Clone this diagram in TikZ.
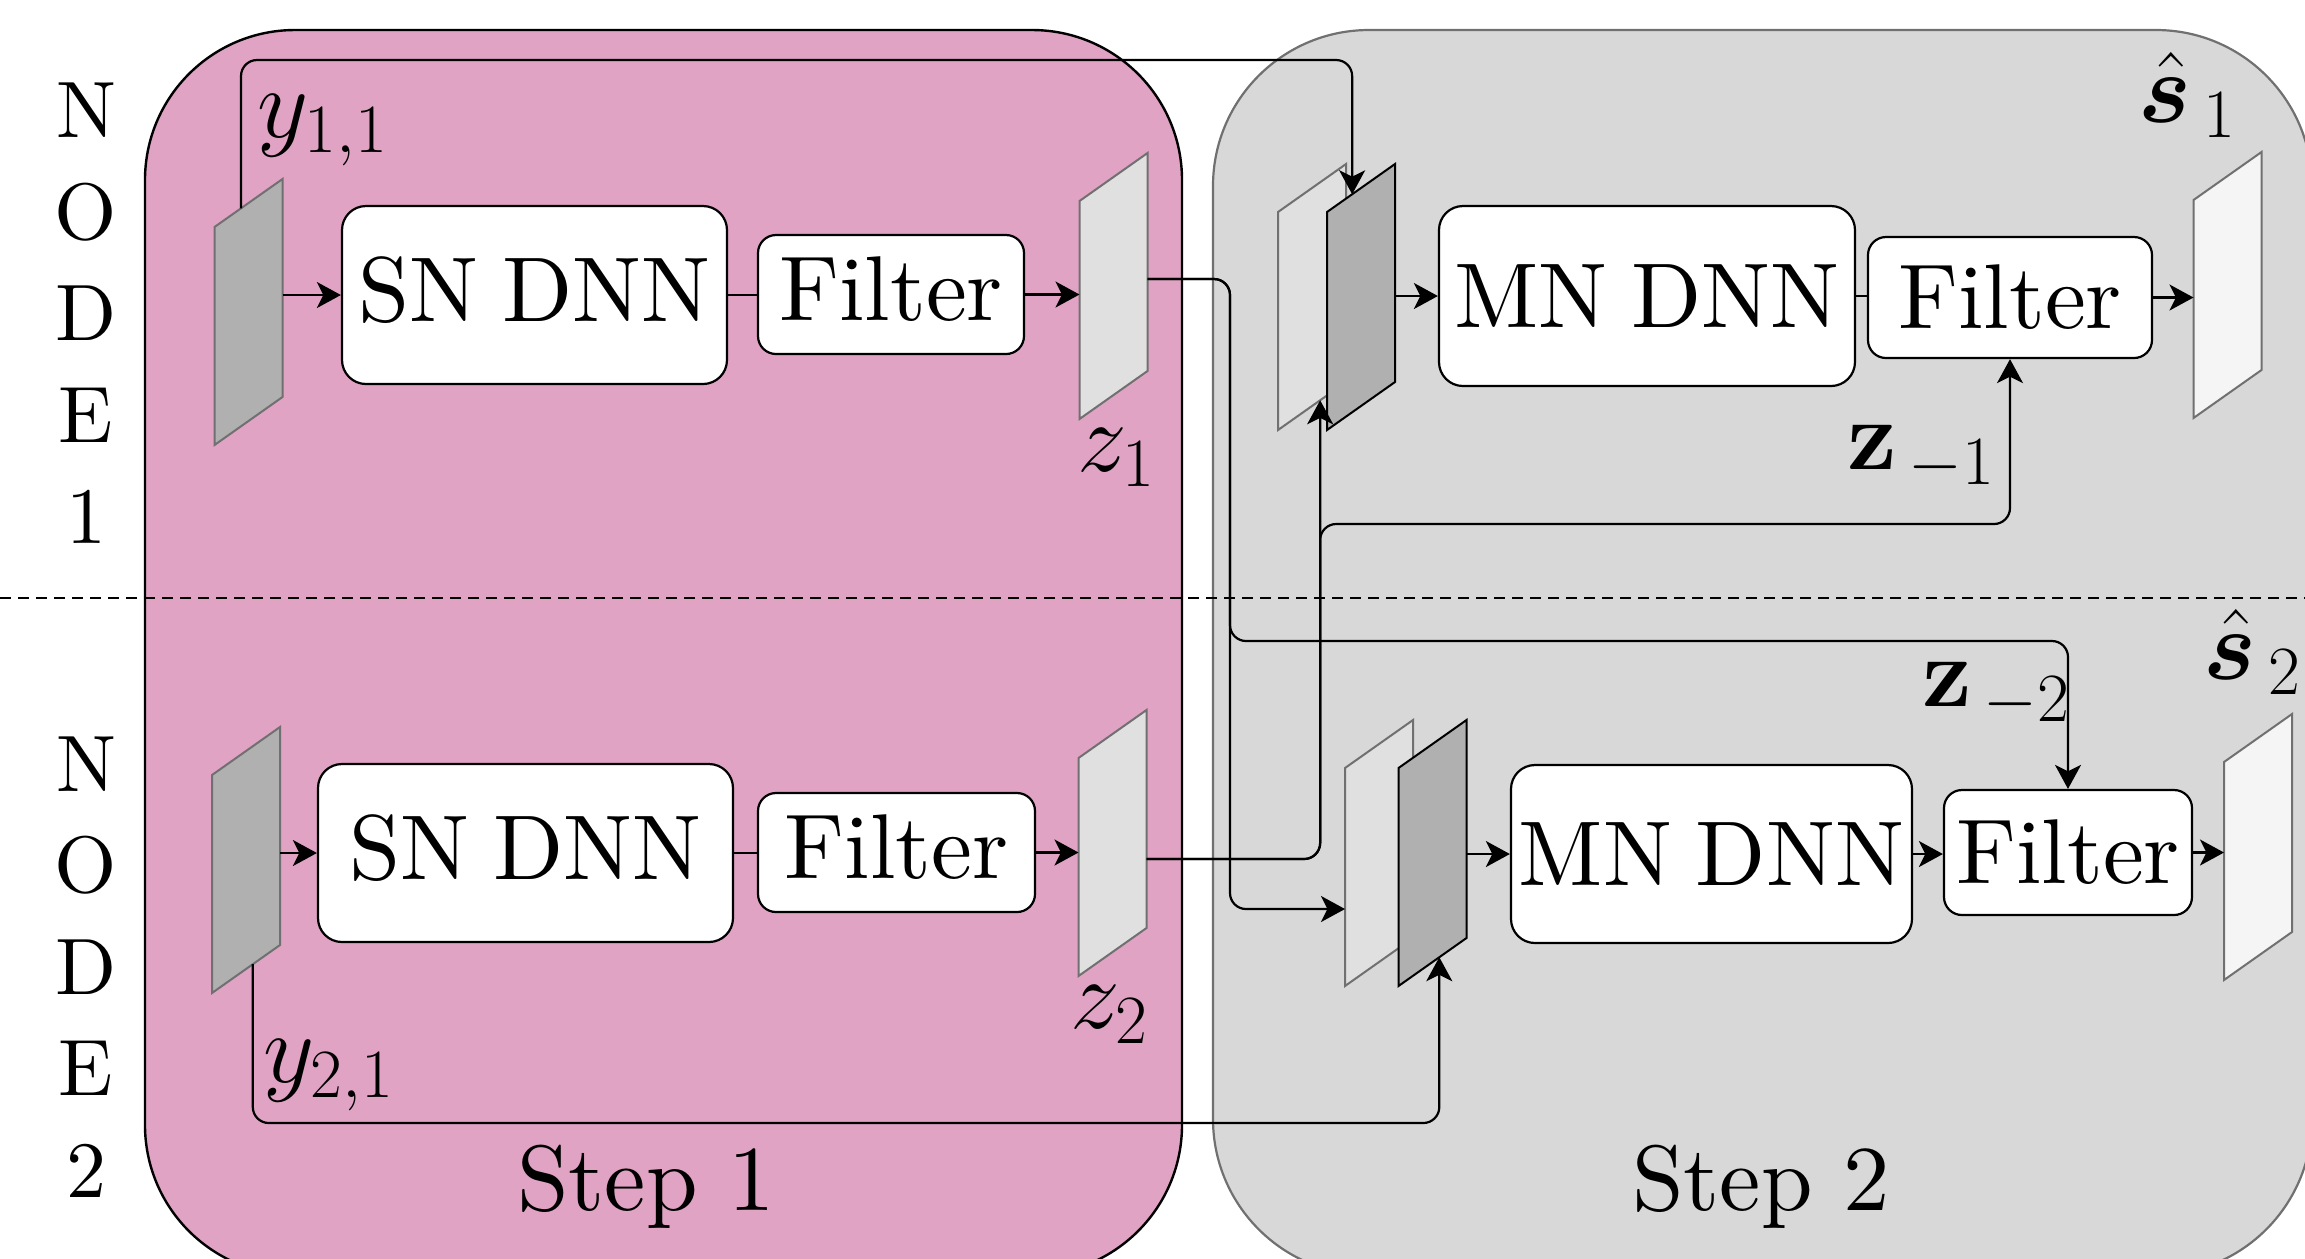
\documentclass[tikz,border=0pt]{standalone}
\usepackage{amsmath,bm}
\usetikzlibrary{arrows.meta,calc}
\definecolor{pinkfill}{RGB}{224,163,196}
\definecolor{grayfill}{RGB}{216,216,216}
\definecolor{grayedge}{RGB}{112,112,112}
\definecolor{pdark}{RGB}{176,176,176}
\definecolor{plight}{RGB}{224,224,224}
\definecolor{plighter}{RGB}{245,245,245}
\font\lmtenbox="[lmroman10-regular]:+tlig;" at 23pt
\fontdimen2\lmtenbox=6pt
\font\lmtenstep="[lmroman10-regular]:+tlig;" at 23.2pt
\font\lmtennode="[lmroman10-regular]:+tlig;" at 20pt
% parallelogram: name, cx, cy, fill, edge colour
\newcommand\prl[5]{%
  \coordinate (#1) at (#2,#3);
  \coordinate (#1-tl) at ({#2-34},{#3+24-109});
  \coordinate (#1-tr) at ({#2+34},{#3-24-109});
  \coordinate (#1-br) at ({#2+34},{#3-24+109});
  \coordinate (#1-bl) at ({#2-34},{#3+24+109});
  \coordinate (#1-e) at ({#2+34},#3);
  \coordinate (#1-w) at ({#2-34},#3);
  \draw[line width=0.5pt, draw=#5, fill=#4, line join=miter] (#1-tl) -- (#1-tr) -- (#1-br) -- (#1-bl) -- cycle;
}
\begin{document}
\begin{tikzpicture}[x=0.25pt,y=-0.25pt,
  boxa/.style={draw, line width=0.55pt, fill=white, rounded corners=6pt, inner sep=0pt,
    font=\lmtenbox},
  boxf/.style={boxa, rounded corners=4.5pt},
  up/.style={text depth=3pt},
  lbl/.style={inner sep=0pt, font=\fontsize{24}{28}\selectfont},
  steplbl/.style={inner sep=0pt, font=\lmtenstep},
  nodelbl/.style={inner sep=0pt, align=center, font={\lmtennode\baselineskip=25.375pt}},
  arr/.style={line width=0.55pt, -{Stealth[length=6pt,width=6.5pt,inset=1.6pt]}},
  ln/.style={line width=0.55pt},
  rnd/.style={rounded corners=4pt}
]
\useasboundingbox (0,0) rectangle (2305,1258);
\clip (0,0) rectangle (2305,1258);

% step regions
\draw[line width=0.6pt, fill=pinkfill, rounded corners=37.5pt] (145,30) rectangle (1182,1275);
\draw[line width=0.55pt, draw=grayedge, fill=grayfill, rounded corners=39pt] (1213,30) rectangle (2312,1275);

% separator
\draw[line width=0.5pt, dash pattern=on 2.75pt off 1.75pt] (0,598) -- (2305,598);

% node labels
\node[nodelbl] (node1) at (86,313.5) {N\\O\\D\\E\\1};
\node[nodelbl] (node2) at (86,967) {N\\O\\D\\E\\2};

% parallelograms
\prl{py1}{248.5}{312}{pdark}{grayedge}
\prl{pz1}{1113.5}{286}{plight}{grayedge}
\prl{pl1}{1312}{297}{plight}{grayedge}
\prl{pd1}{1361}{297}{pdark}{black}
\prl{ps1}{2227.5}{285}{plighter}{grayedge}
\prl{py2}{246}{860}{pdark}{grayedge}
\prl{pz2}{1112.5}{843}{plight}{grayedge}
\prl{pl2}{1379}{853}{plight}{grayedge}
\prl{pd2}{1432.5}{853}{pdark}{black}
\prl{ps2}{2258}{847}{plighter}{grayedge}

% boxes
\node[boxa, up, minimum width=96.25pt, minimum height=44.5pt] (sn1) at (534.5,295) {SN DNN};
\node[boxf, up, minimum width=66.5pt, minimum height=29.75pt] (f1) at (891,294.5) {Filter};
\node[boxa, minimum width=104pt, minimum height=45pt] (mn1) at (1647,296) {MN DNN};
\node[boxf, minimum width=71pt, minimum height=30.25pt] (f2) at (2010,297.5) {Filter};
\node[boxa, up, minimum width=103.75pt, minimum height=44.5pt] (sn2) at (525.5,853) {SN DNN};
\node[boxf, up, minimum width=69.25pt, minimum height=29.75pt] (f3) at (896.5,852.5) {Filter};
\node[boxa, minimum width=100.25pt, minimum height=44.5pt] (mn2) at (1711.5,854) {MN DNN};
\node[boxf, minimum width=62pt, minimum height=31.25pt] (f4) at (2068,852.5) {Filter};

% helper coordinates
\coordinate (topbus) at (0,60);
\coordinate (lowbus) at (0,524);
\coordinate (midbus) at (0,641);
\coordinate (botbus) at (0,1123);
\coordinate (busA) at (1230,0);
\coordinate (y1out) at ($(py1-tl)!0.39!(py1-tr)$);
\coordinate (d1in) at ($(pd1-tl)!0.37!(pd1-tr)$);
\coordinate (z1out) at ($(pz1-e)+(0,-7)$);
\coordinate (l2in) at ($(pl2-w)+(0,56)$);
\coordinate (z2out) at ($(pz2-e)+(0,16)$);
\coordinate (d1bot) at ($(pl1-bl)!0.62!(pl1-br)$);
\coordinate (y2out) at ($(py2-bl)!0.6!(py2-br)$);
\coordinate (d2bot) at ($(pd2-bl)!0.6!(pd2-br)$);

% row 1 connectors
\draw[arr] (sn1.west -| py1-e) -- (sn1.west);
\draw[ln] (sn1.east) -- (sn1.east -| f1.west);
\draw[arr] (f1.east) -- (f1.east -| pz1-w);
\draw[arr] (mn1.west -| pd1-e) -- (mn1.west);
\draw[ln] (mn1.east) -- (mn1.east -| f2.west);
\draw[arr] (f2.east) -- (f2.east -| ps1-w);
% row 2 connectors
\draw[arr] (sn2.west -| py2-e) -- (sn2.west);
\draw[ln] (sn2.east) -- (sn2.east -| f3.west);
\draw[arr] (f3.east) -- (f3.east -| pz2-w);
\draw[arr] (mn2.west -| pd2-e) -- (mn2.west);
\draw[arr] (mn2.east) -- (mn2.east -| f4.west);
\draw[arr] (f4.east) -- (f4.east -| ps2-w);

% cross connectors
\draw[arr, rnd] (y1out) -- (y1out |- topbus) -- (d1in |- topbus) -- (d1in);
\draw[arr, rnd] (z1out) -- (busA |- z1out) -- (busA |- l2in) -- (l2in);
\draw[arr, rnd] (z1out) -- (busA |- z1out) -- (busA |- midbus) -- (f4.north |- midbus) -- (f4.north);
\draw[arr, rnd] (z2out) -- (d1bot |- z2out) -- (d1bot);
\draw[arr, rnd] (z2out) -- (d1bot |- z2out) -- (d1bot |- lowbus) -- (f2.south |- lowbus) -- (f2.south);
\draw[arr, rnd] (y2out) -- (y2out |- botbus) -- (d2bot |- botbus) -- (d2bot);

% labels
\node[lbl] (ly11) at (323,130) {$y_{1,1}$};
\node[lbl] (lz1) at (1117,458) {$z_1$};
\node[lbl] (ly21) at (329,1075) {$y_{2,1}$};
\node[lbl] (lz2) at (1110,1015) {$z_2$};
\node[lbl] (ls1) at (2188,95) {$\hat{\bm{s}}_{\,1}$};
\node[lbl] (ls2) at (2253,652) {$\hat{\bm{s}}_{\,2}$};
\node[lbl] (lzm1) at (1922,458) {$\mathbf{z}_{\,-1}$};
\node[lbl] (lzm2) at (1997,695) {$\mathbf{z}_{\,-2}$};
\node[steplbl] (step1) at (646,1187) {Step 1};
\node[steplbl] (step2) at (1761,1187) {Step 2};
\end{tikzpicture}
\end{document}
